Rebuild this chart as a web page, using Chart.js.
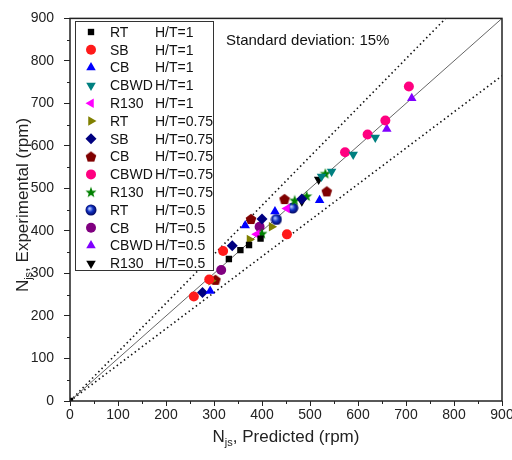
<!DOCTYPE html>
<html>
<head>
<meta charset="utf-8">
<script src="https://cdn.jsdelivr.net/npm/chart.js@4/dist/chart.umd.min.js"></script>
<style>
  html, body { margin: 0; padding: 0; background: #fff; }
</style>
</head>
<body>
<canvas id="chart" width="512" height="460"></canvas>
<script>
// --- data (predicted rpm, experimental rpm) ---
const rtH1 = [[0, 0], [331, 334], [355, 355], [373, 367], [397, 382]];
const sbH1 = [[258, 246], [290, 286], [319, 353], [452, 392]];
const cbH1 = [[292, 259], [365, 413], [427, 446], [520, 472]];
const cbwdH1 = [[524, 528], [545, 540], [590, 580], [636, 620]];
const r130H1 = [[389, 392], [452, 453]];
const rtH075 = [[294, 283], [374, 380], [420, 410]];
const sbH075 = [[276, 255], [338, 365], [400, 428], [483, 475]];
const cbH075 = [[303, 285], [377, 428], [447, 475], [535, 493]];
const cbwdH075 = [[573, 585], [620, 627], [657, 660], [706, 740]];
const r130H075 = [[400, 394], [468, 472], [493, 482], [532, 535]];
const rtH05 = [[430, 427], [464, 454]];
const cbH05 = [[315, 308], [395, 410]];
const cbwdH05 = [[660, 640], [712, 712]];
const r130H05 = [[483, 470], [518, 521]];

const impellers = ['RT', 'SB', 'CB', 'CBWD', 'R130', 'RT', 'SB', 'CB', 'CBWD', 'R130', 'RT', 'CB', 'CBWD', 'R130'];
const ratios = ['H/T=1', 'H/T=1', 'H/T=1', 'H/T=1', 'H/T=1', 'H/T=0.75', 'H/T=0.75', 'H/T=0.75', 'H/T=0.75', 'H/T=0.75', 'H/T=0.5', 'H/T=0.5', 'H/T=0.5', 'H/T=0.5'];
const allSeries = [rtH1, sbH1, cbH1, cbwdH1, r130H1, rtH075, sbH075, cbH075, cbwdH075, r130H075, rtH05, cbH05, cbwdH05, r130H05];

const axisTicks = [0, 100, 200, 300, 400, 500, 600, 700, 800, 900];
const deviation = 0.15;

// --- marker styles ---
function shapeCanvas(kind, color) {
    const c = document.createElement('canvas');
    c.width = 12; c.height = 12;
    const g = c.getContext('2d');
    g.fillStyle = color;
    g.beginPath();
    if (kind === 'pentagon') {
        for (let i = 0; i < 5; i++) {
            const a = -Math.PI / 2 + i * 2 * Math.PI / 5;
            g.lineTo(6 + 5.6 * Math.cos(a), 6.4 + 5.6 * Math.sin(a));
        }
    } else if (kind === 'star') {
        for (let i = 0; i < 10; i++) {
            const a = -Math.PI / 2 + i * Math.PI / 5;
            const r = i % 2 ? 2.4 : 5.8;
            g.lineTo(6 + r * Math.cos(a), 6.4 + r * Math.sin(a));
        }
    } else if (kind === 'ball') {
        const grad = g.createRadialGradient(4.5, 4.5, 0.5, 6, 6, 6);
        grad.addColorStop(0, '#b0c4ff');
        grad.addColorStop(0.45, '#1030c0');
        grad.addColorStop(1, '#000050');
        g.fillStyle = grad;
        g.arc(6, 6, 5.5, 0, Math.PI * 2);
    }
    g.closePath();
    g.fill();
    return c;
}

const styles = [
    { color: '#000000', pointStyle: 'rect', radius: 4.5, rotation: 0 },
    { color: '#ff1a1a', pointStyle: 'circle', radius: 5, rotation: 0 },
    { color: '#0000ff', pointStyle: 'triangle', radius: 5.5, rotation: 0 },
    { color: '#008080', pointStyle: 'triangle', radius: 5.5, rotation: 180 },
    { color: '#ff00ff', pointStyle: 'triangle', radius: 5.5, rotation: 270 },
    { color: '#808000', pointStyle: 'triangle', radius: 5.5, rotation: 90 },
    { color: '#000080', pointStyle: 'rectRot', radius: 5.5, rotation: 0 },
    { color: '#800000', pointStyle: shapeCanvas('pentagon', '#800000'), radius: 6, rotation: 0 },
    { color: '#ff0080', pointStyle: 'circle', radius: 5, rotation: 0 },
    { color: '#008000', pointStyle: shapeCanvas('star', '#008000'), radius: 6, rotation: 0 },
    { color: '#0000a0', pointStyle: shapeCanvas('ball', '#0000a0'), radius: 6, rotation: 0 },
    { color: '#800080', pointStyle: 'circle', radius: 5, rotation: 0 },
    { color: '#8000ff', pointStyle: 'triangle', radius: 5.5, rotation: 0 },
    { color: '#000000', pointStyle: 'triangle', radius: 5.5, rotation: 180 }
];

const datasets = allSeries.map((pts, i) => ({
    label: impellers[i] + ' ' + ratios[i],
    data: pts.map(p => ({ x: p[0], y: p[1] })),
    backgroundColor: styles[i].color,
    borderColor: styles[i].color,
    borderWidth: 0,
    pointStyle: styles[i].pointStyle,
    pointRadius: styles[i].radius,
    pointRotation: styles[i].rotation,
    order: 1
}));

// parity line and +/- deviation lines
const lineEnd = axisTicks[axisTicks.length - 1];
datasets.push({
    type: 'line', label: 'parity',
    data: [{ x: 0, y: 0 }, { x: lineEnd, y: lineEnd }],
    borderColor: '#666', borderWidth: 1, pointRadius: 0, order: 5
});
datasets.push({
    type: 'line', label: 'upper',
    data: [{ x: 0, y: 0 }, { x: lineEnd / (1 + deviation), y: lineEnd }],
    borderColor: '#111', borderWidth: 1.6, borderDash: [1.5, 3], pointRadius: 0, order: 5
});
datasets.push({
    type: 'line', label: 'lower',
    data: [{ x: 0, y: 0 }, { x: lineEnd, y: lineEnd * (1 - deviation) }],
    borderColor: '#111', borderWidth: 1.6, borderDash: [1.5, 3], pointRadius: 0, order: 5
});

const FONT = '"Liberation Sans", Arial, sans-serif';

// draws "N" + subscript "js" + rest, centered on (0,0) of current transform
function subTitle(ctx, rest) {
    ctx.font = '17px ' + FONT;
    const wN = ctx.measureText('N').width;
    ctx.font = '11px ' + FONT;
    const wS = ctx.measureText('js').width;
    ctx.font = '17px ' + FONT;
    const wR = ctx.measureText(rest).width;
    let x = -(wN + wS + wR) / 2;
    ctx.fillStyle = '#222';
    ctx.textBaseline = 'alphabetic';
    ctx.textAlign = 'left';
    ctx.fillText('N', x, 6);
    x += wN;
    ctx.font = '11px ' + FONT;
    ctx.fillText('js', x, 10);
    x += wS;
    ctx.font = '17px ' + FONT;
    ctx.fillText(rest, x, 6);
}

const decorPlugin = {
    id: 'decor',
    afterDraw(chart) {
        const ctx = chart.ctx;
        const a = chart.chartArea;
        const xs = chart.scales.x, ys = chart.scales.y;
        ctx.save();
        // frame
        ctx.strokeStyle = '#222';
        ctx.lineWidth = 1.5;
        ctx.strokeRect(a.left, a.top, a.right - a.left, a.bottom - a.top);
        // minor ticks
        ctx.lineWidth = 1;
        ctx.beginPath();
        for (let v = 50; v < 900; v += 100) {
            const px = Math.round(xs.getPixelForValue(v)) + 0.5;
            ctx.moveTo(px, a.bottom); ctx.lineTo(px, a.bottom + 3);
            const py = Math.round(ys.getPixelForValue(v)) + 0.5;
            ctx.moveTo(a.left, py); ctx.lineTo(a.left - 3, py);
        }
        ctx.stroke();

        // legend box
        const lx = 75, ly = 21, lw = 138, lh = 249;
        ctx.fillStyle = '#fff';
        ctx.fillRect(lx, ly, lw, lh);
        ctx.strokeStyle = '#333';
        ctx.lineWidth = 1;
        ctx.strokeRect(lx + 0.5, ly + 0.5, lw, lh);
        ctx.font = '14px ' + FONT;
        ctx.textBaseline = 'middle';
        ctx.textAlign = 'left';
        for (let i = 0; i < impellers.length; i++) {
            const y = 32 + i * 17.8;
            const s = styles[i];
            ctx.fillStyle = s.color;
            ctx.strokeStyle = s.color;
            ctx.lineWidth = 0;
            Chart.helpers.drawPoint(ctx, { pointStyle: s.pointStyle, radius: s.radius, rotation: s.rotation, borderWidth: 0 }, 91, y);
            ctx.fillStyle = '#111';
            ctx.fillText(impellers[i], 110, y + 1);
            ctx.fillText(ratios[i], 155, y + 1);
        }

        // annotation
        ctx.font = '15px ' + FONT;
        ctx.fillStyle = '#111';
        ctx.fillText('Standard deviation: 15%', 226, 41);

        // axis titles
        ctx.save();
        ctx.translate((a.left + a.right) / 2, 436);
        subTitle(ctx, ', Predicted (rpm)');
        ctx.restore();
        ctx.save();
        ctx.translate(22, 205);
        ctx.rotate(-Math.PI / 2);
        subTitle(ctx, ', Experimental (rpm)');
        ctx.restore();
        ctx.restore();
    }
};

new Chart(document.getElementById('chart'), {
    type: 'scatter',
    data: { datasets: datasets },
    options: {
        responsive: false,
        animation: false,
        layout: { padding: { top: 16, right: 0, left: 0, bottom: 0 } },
        plugins: { legend: { display: false }, tooltip: { enabled: false } },
        scales: {
            x: {
                type: 'linear', min: 0, max: 900,
                afterBuildTicks: s => { s.ticks = axisTicks.map(v => ({ value: v })); },
                afterFit: s => { s.height = 59; s.paddingRight = 10; s.paddingLeft = 0; },
                ticks: { color: '#222', font: { family: FONT, size: 14 }, padding: 1, maxRotation: 0 },
                grid: { drawOnChartArea: false, tickLength: 5, color: '#222', tickWidth: 1 },
                border: { display: false }
            },
            y: {
                type: 'linear', min: 0, max: 900,
                afterBuildTicks: s => { s.ticks = axisTicks.map(v => ({ value: v })); },
                afterFit: s => { s.width = 70; },
                ticks: { color: '#222', font: { family: FONT, size: 14 }, padding: 10 },
                grid: { drawOnChartArea: false, tickLength: 6, color: '#222', tickWidth: 1 },
                border: { display: false }
            }
        }
    },
    plugins: [decorPlugin]
});
</script>
</body>
</html>
